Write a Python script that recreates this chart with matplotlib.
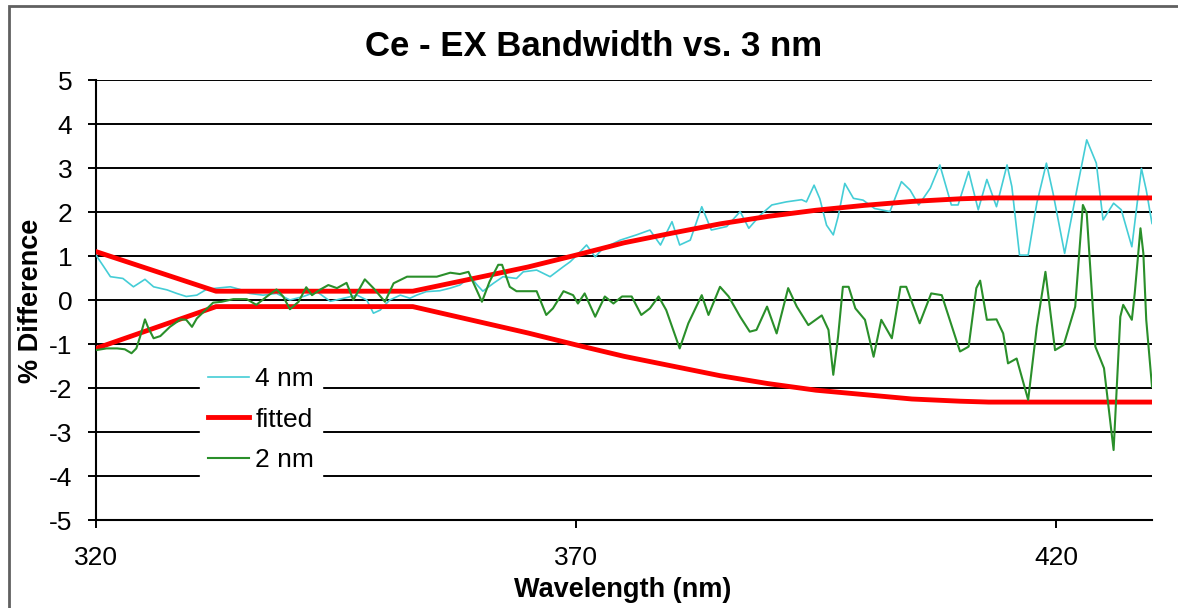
import matplotlib
matplotlib.use('Agg')
import matplotlib.pyplot as plt
from matplotlib.patches import Rectangle

plt.rcParams['font.family'] = ['Liberation Sans', 'DejaVu Sans']
plt.rcParams['axes.unicode_minus'] = False

# 4 nm series
nm4_x = [320.0, 320.8, 321.5, 322.8, 323.9, 325.1, 326.0, 327.4, 328.4, 329.4, 330.5, 331.5, 332.6,
         334.0, 335.0, 336.0, 337.4, 338.8, 340.2, 341.6, 343.0, 344.4, 345.8, 347.2, 348.2, 348.9,
         349.6, 350.6, 351.7, 352.7, 353.4, 354.4, 355.8, 356.9, 357.9, 359.0, 359.7, 360.3, 361.4,
         362.4, 363.8, 364.5, 365.9, 367.3, 368.7, 369.4, 370.1, 371.1, 372.0, 372.8, 374.6, 376.3,
         377.7, 378.8, 380.0, 380.8, 381.9, 383.1, 384.1, 385.7, 387.1, 388.0, 389.2, 390.4, 391.9,
         393.5, 394.0, 394.8, 395.4, 396.1, 396.8, 397.3, 398.0, 398.9, 399.9, 401.1, 402.7, 403.9,
         404.8, 405.7, 406.9, 407.9, 409.1, 409.8, 410.9, 411.9, 412.8, 413.8, 414.9, 415.4, 416.2,
         417.1, 418.0, 419.0, 419.7, 420.9, 422.3, 423.2, 424.2, 424.9, 426.0, 426.8, 427.9, 428.9,
         429.4, 430.0]
nm4_y = [1.02, 0.76, 0.53, 0.49, 0.30, 0.47, 0.30, 0.23, 0.15, 0.08, 0.11, 0.24, 0.27,
         0.30, 0.24, 0.15, 0.11, 0.15, 0.00, 0.08, 0.19, -0.03, 0.04, 0.11, 0.00, -0.30,
         -0.23, 0.00, 0.11, 0.04, 0.11, 0.19, 0.21, 0.27, 0.34, 0.53, 0.34, 0.20, 0.38,
         0.53, 0.49, 0.64, 0.68, 0.53, 0.76, 0.87, 1.02, 1.25, 0.98, 1.17, 1.36, 1.48,
         1.59, 1.25, 1.78, 1.25, 1.36, 2.12, 1.59, 1.67, 2.01, 1.63, 1.93, 2.16, 2.23,
         2.28, 2.23, 2.61, 2.30, 1.70, 1.48, 1.89, 2.65, 2.31, 2.27, 2.08, 2.01, 2.69,
         2.50, 2.16, 2.54, 3.07, 2.16, 2.16, 2.92, 2.05, 2.74, 2.12, 3.07, 2.58, 1.02,
         1.02, 2.20, 3.11, 2.42, 1.06, 2.65, 3.64, 3.11, 1.82, 2.20, 2.05, 1.21, 2.99,
         2.50, 1.74]

# 2 nm series
nm2_x = [320.0, 321.1, 322.2, 323.0, 323.7, 324.2, 324.6, 325.1, 325.4, 326.0, 326.7, 327.7, 328.8,
         329.4, 330.0, 330.5, 331.4, 332.2, 333.1, 334.3, 335.7, 336.7, 337.8, 338.8, 339.5, 340.2,
         341.1, 341.9, 342.5, 343.3, 344.2, 345.1, 346.1, 346.8, 348.0, 348.9, 350.1, 351.0, 352.4,
         353.8, 355.5, 356.9, 357.9, 358.8, 359.5, 360.2, 361.0, 361.9, 362.3, 363.1, 363.8, 365.9,
         366.9, 367.6, 368.7, 369.7, 370.2, 370.9, 372.0, 373.0, 373.9, 374.8, 375.8, 376.8, 377.7,
         378.6, 379.4, 380.8, 381.7, 383.1, 383.8, 385.0, 385.9, 387.1, 388.1, 388.8, 389.9, 390.9,
         392.1, 393.0, 394.2, 395.6, 396.3, 396.8, 397.3, 397.8, 398.4, 399.1, 400.1, 401.0, 401.8,
         402.9, 403.8, 404.4, 405.8, 407.0, 408.1, 410.0, 410.9, 411.7, 412.1, 412.8, 413.8, 414.5,
         415.0, 415.9, 417.1, 418.0, 418.9, 419.9, 420.8, 422.0, 422.8, 423.2, 424.1, 425.0, 426.0,
         426.7, 427.0, 427.9, 428.2, 428.8, 429.1, 429.4, 430.0]
nm2_y = [-1.14, -1.10, -1.10, -1.12, -1.21, -1.10, -0.83, -0.44, -0.61, -0.87, -0.82, -0.61, -0.44,
         -0.45, -0.61, -0.42, -0.23, -0.06, -0.04, 0.02, 0.02, -0.11, 0.08, 0.24, 0.08, -0.21,
         -0.04, 0.29, 0.11, 0.23, 0.34, 0.27, 0.39, 0.00, 0.47, 0.27, -0.04, 0.38, 0.53,
         0.53, 0.53, 0.62, 0.59, 0.64, 0.30, -0.04, 0.42, 0.80, 0.80, 0.30, 0.20, 0.20,
         -0.34, -0.19, 0.20, 0.11, -0.08, 0.15, -0.38, 0.08, -0.08, 0.08, 0.08, -0.34, -0.19,
         0.08, -0.23, -1.10, -0.53, 0.11, -0.34, 0.30, 0.08, -0.38, -0.72, -0.68, -0.15, -0.76,
         0.27, -0.15, -0.57, -0.35, -0.68, -1.70, -0.83, 0.30, 0.30, -0.19, -0.45, -1.29, -0.45,
         -0.87, 0.30, 0.30, -0.53, 0.15, 0.11, -1.17, -1.06, 0.27, 0.44, -0.45, -0.44, -0.76,
         -1.44, -1.33, -2.27, -0.61, 0.64, -1.14, -1.02, -0.15, 2.16, 1.97, -1.06, -1.55, -3.41,
         -0.38, -0.11, -0.45, 0.15, 1.63, 1.06, -0.45, -1.97]

# fitted envelope
fit_x = [320, 332.5, 353, 360, 365, 370, 375, 380, 385, 390, 395, 400, 405, 410, 413, 430]
fit_upper = [1.1, 0.2, 0.2, 0.52, 0.75, 1.02, 1.3, 1.52, 1.73, 1.9, 2.04, 2.15, 2.24, 2.3, 2.32, 2.32]
fit_lower = [-1.1, -0.15, -0.15, -0.5, -0.75, -1.02, -1.28, -1.5, -1.72, -1.9, -2.05, -2.15, -2.25,
             -2.3, -2.32, -2.32]

W, H = 1178, 608
fig = plt.figure(figsize=(W / 100, H / 100), dpi=100)
ax = fig.add_axes([96 / W, 1 - 520 / H, (1152 - 96) / W, 440 / H])

l4, = ax.plot(nm4_x, nm4_y, color='#44cdd6', lw=1.2, zorder=3)
lf, = ax.plot(fit_x, fit_upper, color='#ff0000', lw=3.5, zorder=4)
ax.plot(fit_x, fit_lower, color='#ff0000', lw=3.5, zorder=4)
l2, = ax.plot(nm2_x, nm2_y, color='#2a8f2a', lw=1.5, zorder=5)

ax.set_xlim(320, 430)
ax.set_ylim(-5, 5)
ax.set_xticks([320, 370, 420])
ax.set_yticks(range(-5, 6))
ax.grid(axis='y', color='black', lw=1.4, zorder=1)
ax.set_axisbelow(True)
for s in ['top', 'right']:
    ax.spines[s].set_visible(False)
for s in ['left', 'bottom']:
    ax.spines[s].set_linewidth(1.5)
ax.tick_params(axis='both', direction='out', length=6, width=1.4, labelsize=19)
ax.tick_params(axis='y', pad=11)
ax.tick_params(axis='x', pad=13)

ax.legend([l4, lf, l2], ['4 nm', 'fitted', '2 nm'], loc='upper left',
          bbox_to_anchor=(0.0985, 0.365), frameon=True, facecolor='white', edgecolor='white',
          framealpha=1, fancybox=False, borderaxespad=0, borderpad=0.3, handlelength=1.55,
          handletextpad=0.25, labelspacing=0.62, fontsize=19)

fig.text(594 / W, 1 - 47 / H, 'Ce - EX Bandwidth vs. 3 nm', ha='center', va='center',
         fontsize=25, fontweight='bold')
fig.text(623 / W, 1 - 590 / H, 'Wavelength (nm)', ha='center', va='center',
         fontsize=19.5, fontweight='bold')
fig.text(31 / W, 1 - 301 / H, '% Difference', ha='center', va='center', rotation=90,
         fontsize=19.5, fontweight='bold')

fig.patches.append(Rectangle((9 / W, -0.1), 1.2, 1.1 - 6 / H, transform=fig.transFigure,
                             fill=False, edgecolor='#606060', lw=2))

fig.savefig('out.png', dpi=100)
